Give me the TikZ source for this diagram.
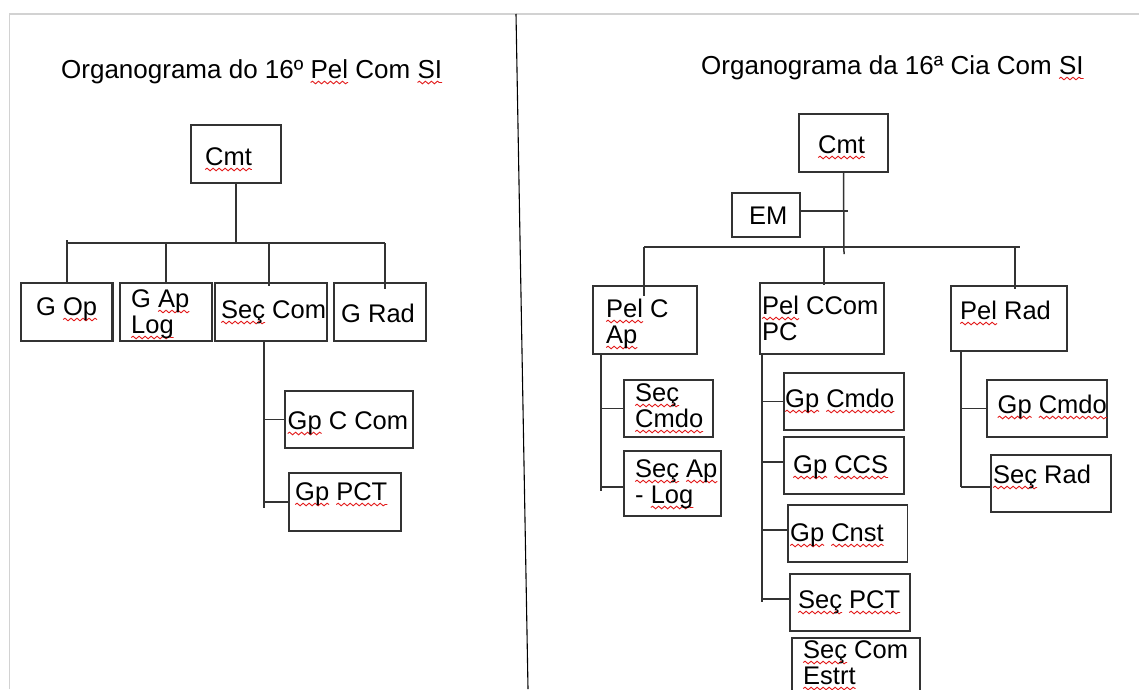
\documentclass[tikz,border=0pt]{standalone}
\usepackage{fontspec}
\setmainfont{Liberation Sans}
\usetikzlibrary{decorations.pathmorphing}
\definecolor{line}{HTML}{333333}
\definecolor{spell}{HTML}{E21B1B}
\newdimen\sqwd
\newcommand{\sq}[1]{\setbox0\hbox{#1}\sqwd=\wd0\rlap{\tikz[overlay]\draw[spell, line width=0.9pt, decorate, decoration={snake, amplitude=1.3pt, segment length=6pt}] (0pt,-4.5pt) -- (\sqwd,-4.5pt);}\box0\relax}

\begin{document}
\begin{tikzpicture}[x=1pt, y=-1pt,
	every node/.style={font=\fontsize{25.5}{26}\selectfont},
	unit/.style={draw=line, line width=1.5pt, inner sep=0pt},
	heavy/.style={unit, line width=2.4pt},
	txt/.style={inner sep=0pt, anchor=base west, align=left},
	wire/.style={draw=line, line width=1.5pt}]
	\useasboundingbox (0,0) rectangle (1139,689);
	% page edge and divider
	\draw[gray!35, line width=1.5pt] (9.6,689) -- (9.6,14) -- (1139,14);
	\draw[black, line width=1.1pt] (516,14) -- (528,689);

	% left chart
	\node[txt, font=\fontsize{26}{26}\selectfont] (titleA) at (61,78) {Organograma do 16º \sq{Pel} Com \sq{SI}};
	\node[heavy, minimum width=90pt, minimum height=58pt] (cmtA) at (236,154) {};
	\node[heavy, minimum width=91.5pt, minimum height=58pt] (gop) at (66.75,312) {};
	\node[unit, minimum width=92pt, minimum height=58pt] (gaplog) at (166,312) {};
	\node[unit, minimum width=112pt, minimum height=58pt] (seccom) at (271,312) {};
	\node[unit, minimum width=92pt, minimum height=58pt] (grad) at (380,312) {};
	\node[unit, minimum width=128pt, minimum height=57pt] (gpccom) at (349,419.5) {};
	\node[unit, minimum width=112pt, minimum height=58pt] (gppct) at (345,502) {};

	\node[txt] (cmtAt) at (205,165) {\sq{Cmt}};
	\node[txt] (gopt) at (36,315) {G \sq{Op}};
	\node[txt] (gaplogt) at (131,333) {G \sq{Ap}\\\sq{Log}};
	\node[txt] (seccomt) at (221,318) {\sq{Seç} Com};
	\node[txt] (gradt) at (341,322) {G Rad};
	\node[txt] (gpccomt) at (287.5,429) {\sq{Gp} C Com};
	\node[txt] (gppctt) at (295,500) {\sq{Gp} \sq{PCT}};

	\coordinate (busAl) at (67,243);
	\coordinate (busAr) at (385,243);
	\draw[wire] (cmtA.south) -- (cmtA.south |- busAl);
	\draw[wire] (busAl) -- (busAr);
	\draw[wire] ([yshift=3pt]busAl) -- (gop.north -| busAl);
	\draw[wire] (gaplog.north |- busAl) -- (gaplog.north);
	\draw[wire] ([xshift=-2pt]seccom.north |- busAl) -- ([xshift=-2pt,yshift=-4pt]seccom.north);
	\draw[wire] (busAr) -- ([yshift=-7pt]grad.north -| busAr);
	\coordinate (spineA) at (264,508);
	\draw[wire] (spineA |- seccom.south) -- (spineA);
	\foreach \n in {gpccom,gppct}
		\draw[wire] (spineA |- \n.west) -- (\n.west);

	% right chart
	\node[txt, font=\fontsize{26}{26}\selectfont] (titleB) at (701,74) {Organograma da 16ª Cia Com \sq{SI}};
	\node[unit, minimum width=89pt, minimum height=58pt] (cmtB) at (843.5,143) {};
	\node[unit, minimum width=68pt, minimum height=44pt] (em) at (766,215) {};
	\node[unit, minimum width=104pt, minimum height=68pt] (pelcap) at (645,320) {};
	\node[unit, minimum width=124pt, minimum height=71pt] (pelccom) at (822,318.5) {};
	\node[unit, minimum width=116pt, minimum height=65pt] (pelrad) at (1009,318.5) {};
	\node[unit, minimum width=89pt, minimum height=57pt] (seccmdo) at (668.5,408.5) {};
	\node[unit, minimum width=97pt, minimum height=65pt] (secaplog) at (672.5,483.5) {};
	\node[unit, minimum width=120pt, minimum height=57pt] (gpcmdoA) at (844,401.5) {};
	\node[unit, minimum width=120pt, minimum height=57pt] (gpccs) at (844,465.5) {};
	\node[unit, minimum width=119.5pt, minimum height=57pt] (gpcnst) at (847.75,533.5) {};
	\node[unit, minimum width=120pt, minimum height=57pt] (secpct) at (850,602.5) {};
	\node[unit, minimum width=128pt, minimum height=62pt] (seccomestrt) at (856,669) {};
	\node[unit, minimum width=120pt, minimum height=57pt] (gpcmdoB) at (1047,408.5) {};
	\node[unit, minimum width=120pt, minimum height=57pt] (secrad) at (1051,483.5) {};

	\node[txt] (cmtBt) at (818,153) {\sq{Cmt}};
	\node[txt] (emt) at (749,224) {EM};
	\node[txt] (pelcapt) at (606,343) {\sq{Pel} C\\\sq{Ap}};
	\node[txt] (pelccomt) at (762,340) {\sq{Pel} CCom\\PC};
	\node[txt] (pelradt) at (960,319) {\sq{Pel} Rad};
	\node[txt] (seccmdot) at (635,427) {\sq{Seç}\\\sq{Cmdo}};
	\node[txt] (secaplogt) at (635,503) {\sq{Seç} \sq{Ap}\\- \sq{Log}};
	\node[txt] (gpcmdoAt) at (785,407) {\sq{Gp} \sq{Cmdo}};
	\node[txt] (gpccst) at (793,473) {\sq{Gp} \sq{CCS}};
	\node[txt] (gpcnstt) at (790,541) {\sq{Gp} \sq{Cnst}};
	\node[txt] (secpctt) at (798,608) {\sq{Seç} \sq{PCT}};
	\node[txt] (seccomestrtt) at (803,684) {\sq{Seç} Com\\\sq{Estrt}};
	\node[txt] (gpcmdoBt) at (997.5,413) {\sq{Gp} \sq{Cmdo}};
	\node[txt] (secradt) at (993,483) {\sq{Seç} Rad};

	\coordinate (trunkB) at (844,254);
	\draw[wire] (cmtB.south) -- (trunkB);
	\draw[wire] ([yshift=4pt]em.east) -- ([xshift=3.5pt,yshift=4pt]em.east -| trunkB);
	\coordinate (busBl) at (644,247);
	\coordinate (busBr) at (1020,247);
	\draw[wire] (busBl) -- (busBr);
	\draw[wire] (busBl) -- ([yshift=-11pt]pelcap.north -| busBl);
	\draw[wire] ([xshift=2pt]pelccom.north |- busBl) -- ([xshift=2pt,yshift=-3pt]pelccom.north);
	\draw[wire] ([xshift=6pt]pelrad.north |- busBl) -- ([xshift=6pt,yshift=-4pt]pelrad.north);

	\coordinate (spineB1) at (601,491);
	\draw[wire] (spineB1 |- pelcap.south) -- (spineB1);
	\draw[wire] (spineB1 |- seccmdo.west) -- (seccmdo.west);
	\draw[wire] ([yshift=-3.5pt]secaplog.west -| spineB1) -- ([yshift=-3.5pt]secaplog.west);
	\coordinate (spineB2) at (762,602);
	\draw[wire] (spineB2 |- pelccom.south) -- (spineB2);
	\draw[wire] (spineB2 |- gpcmdoA.west) -- (gpcmdoA.west);
	\foreach \n in {gpccs,gpcnst,secpct}
		\draw[wire] ([yshift=3.5pt]\n.west -| spineB2) -- ([yshift=3.5pt]\n.west);
	\coordinate (spineB3) at (961,487);
	\draw[wire] (spineB3 |- pelrad.south) -- (spineB3);
	\draw[wire] (spineB3 |- gpcmdoB.west) -- (gpcmdoB.west);
	\draw[wire] ([yshift=-3.5pt]secrad.west -| spineB3) -- ([yshift=-3.5pt]secrad.west);
\end{tikzpicture}
\end{document}
